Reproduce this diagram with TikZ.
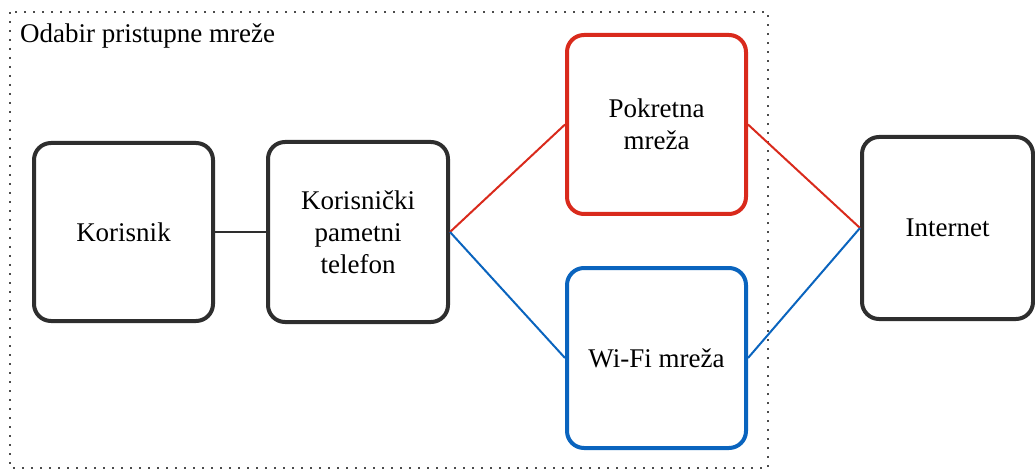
\documentclass[tikz,border=0pt]{standalone}
\usepackage{fontspec}
\setmainfont{Liberation Serif}
\definecolor{boxgray}{HTML}{2E2E2E}
\definecolor{netred}{HTML}{D92A1C}
\definecolor{netblue}{HTML}{0A64BE}
\tikzset{
  blk/.style={draw=boxgray, line width=4pt, rounded corners=17pt, fill=white, align=center, font=\fontsize{27}{32}\selectfont, inner sep=0pt},
  redblk/.style={blk, draw=netred},
  blueblk/.style={blk, draw=netblue},
  link/.style={line width=2pt},
}
\begin{document}
\begin{tikzpicture}[x=1pt,y=-1pt]
\useasboundingbox (0,0) rectangle (1035,470);
% dotted frame
\draw[line width=1.8pt, dash pattern=on 1.8pt off 7.2pt, draw=black!70] (10,12) rectangle (768,468);
\node[anchor=base west, font=\fontsize{27}{32}\selectfont, inner sep=0pt] (title) at (20,43) {Odabir pristupne mreže};
% boxes
\node[blk, minimum width=179pt, minimum height=178pt] (kor) at (123.5,232) {Korisnik};
\node[blk, minimum width=180pt, minimum height=180pt] (tel) at (358,232) {Korisnički\\pametni\\telefon};
\node[redblk, minimum width=179pt, minimum height=179pt] (pok) at (656.5,124.5) {Pokretna\\mreža};
\node[blueblk, minimum width=179pt, minimum height=180pt] (wifi) at (656.5,358) {Wi-Fi mreža};
\node[blk, minimum width=171pt, minimum height=182pt] (inet) at (947.5,228) {Internet};
% connectors
\draw[link, boxgray] (kor.east) -- (tel.west);
\draw[link, netred] (tel.east) -- (pok.west);
\draw[link, netblue] (tel.east) -- (wifi.west);
\draw[link, netred] (pok.east) -- (inet.west);
\draw[link, netblue] (wifi.east) -- (inet.west);
\end{tikzpicture}
\end{document}
